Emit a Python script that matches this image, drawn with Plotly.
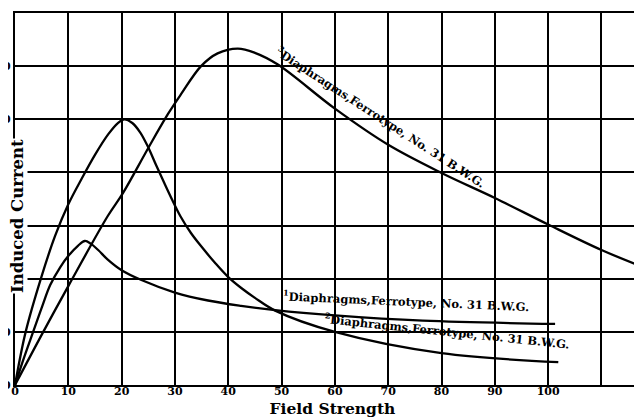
import plotly.graph_objects as go

# ---- data ----
field_1 = [0, 1.5, 3.4, 5.0, 6.6, 8.5, 10.1, 11.8, 13.1, 14.2, 15.6, 17.4, 20.0, 23.6, 30.0, 36.2, 42.4, 48.8, 60.0, 76.5, 101.3]
current_1 = [0, 0.46, 1.0, 1.45, 1.88, 2.22, 2.44, 2.62, 2.71, 2.66, 2.54, 2.36, 2.16, 1.98, 1.74, 1.59, 1.49, 1.41, 1.31, 1.21, 1.15]

field_2 = [0, 2.0, 5.0, 7.5, 10.0, 12.5, 15.0, 17.5, 19.3, 20.5, 22.0, 23.5, 25.0, 26.5, 28.0, 29.5, 31.0, 33.0, 35.0, 37.5, 40.0, 42.5, 45.0, 48.8, 60.0, 80.0, 101.9]
current_2 = [0, 1.0, 2.05, 2.8, 3.4, 3.88, 4.33, 4.72, 4.93, 5.0, 4.93, 4.75, 4.47, 4.13, 3.8, 3.48, 3.18, 2.86, 2.6, 2.3, 2.03, 1.82, 1.64, 1.40, 1.0, 0.6, 0.43]

field_3 = [0, 5.3, 10.1, 17.4, 20.3, 25.0, 28.7, 31.0, 34.9, 38.0, 41.8, 45.0, 49.3, 60.0, 70.0, 80.0, 90.0, 100.0, 110.0, 117.8]
current_3 = [0, 1.0, 1.88, 3.18, 3.62, 4.46, 5.1, 5.45, 6.0, 6.24, 6.33, 6.25, 6.03, 5.2, 4.52, 3.99, 3.52, 3.02, 2.54, 2.22]

x_ticks = [0, 10, 20, 30, 40, 50, 60, 70, 80, 90, 100]
x_tick_labels = ["0", "10", "20", "30", "40", "50", "60", "70", "80", "90", "100"]
x_extra_grid = [110]
y_ticks = [0, 1, 2, 3, 4, 5, 6]
y_tick_labels = ["0", "10", "20", "30", "40", "50", "60"]

labels = [
    "<sup>1</sup>Diaphragms,Ferrotype, No. 31 B.W.G.",
    "<sup>2</sup>Diaphragms,Ferrotype, No. 31 B.W.G.",
    "<sup>3</sup>Diaphragms,Ferrotype, No. 31 B.W.G.",
]
label_x = [73.4, 81.0, 68.6]
label_y = [1.58, 1.02, 5.05]
label_angle = [2.5, 6, 33]

x_title = "Field Strength"
y_title = "Induced Current"

SERIF = "DejaVu Serif"

fig = go.Figure()
for xs, ys in [(field_1, current_1), (field_2, current_2), (field_3, current_3)]:
    fig.add_trace(go.Scatter(
        x=xs, y=ys, mode="lines",
        line=dict(color="black", width=2.3, shape="spline", smoothing=1.0),
        hoverinfo="skip", showlegend=False,
    ))

for t, ax_, ay_, ang in zip(labels, label_x, label_y, label_angle):
    fig.add_annotation(
        x=ax_, y=ay_, xref="x", yref="y", text="<b>" + t + "</b>",
        textangle=ang, showarrow=False,
        font=dict(family=SERIF, size=11.5, color="black"),
        xanchor="center", yanchor="middle",
    )

fig.add_annotation(
    x=(10 - 7) / 635, y=(377 - 208) / 372, xref="paper", yref="paper",
    text="<b>" + y_title + "</b>", textangle=-90, showarrow=False,
    font=dict(family=SERIF, size=16.5, color="black"),
    bgcolor="white", borderpad=0, xanchor="center", yanchor="middle",
)

fig.update_layout(
    width=642, height=420,
    margin=dict(l=7, r=0, t=5, b=43),
    paper_bgcolor="white", plot_bgcolor="white",
    xaxis=dict(
        range=[0, 119.1], tickmode="array", tickvals=x_ticks, ticktext=x_tick_labels,
        showgrid=True, gridcolor="black", gridwidth=1.6,
        minor=dict(tickmode="array", tickvals=x_extra_grid, showgrid=True,
                   gridcolor="black", gridwidth=1.6, ticks=""),
        showline=True, linecolor="black", linewidth=2.4, mirror=True,
        zeroline=False, ticks="", ticklabelstandoff=-5,
        tickfont=dict(family=SERIF, size=11, color="black", weight="bold"),
        title=dict(text="<b>" + x_title + "</b>", standoff=6,
                   font=dict(family=SERIF, size=15.5, color="black")),
        automargin=False,
    ),
    yaxis=dict(
        range=[0, 7], tickmode="array", tickvals=y_ticks, ticktext=y_tick_labels,
        showgrid=True, gridcolor="black", gridwidth=1.6,
        showline=True, linecolor="black", linewidth=2.4,
        zeroline=False, ticks="", ticklabelstandoff=0,
        tickfont=dict(family=SERIF, size=11, color="black", weight="bold"),
        automargin=False,
    ),
)

fig.write_html("out.html")
